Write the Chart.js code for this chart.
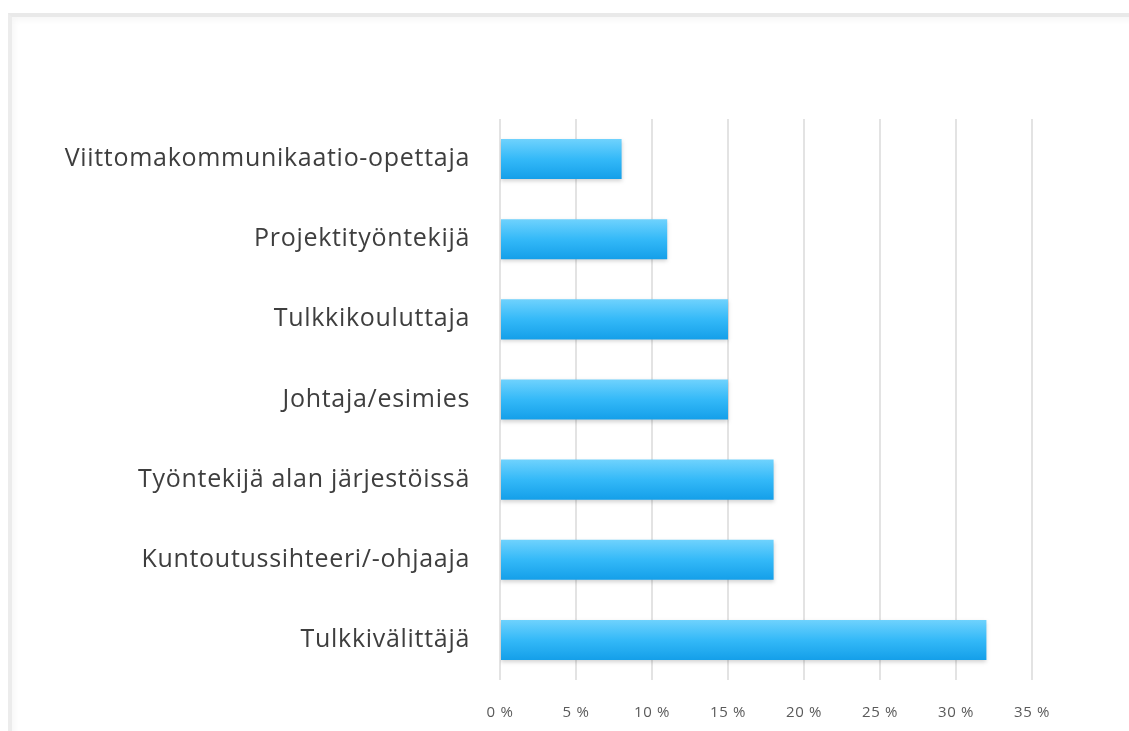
<!DOCTYPE html>
<html>
<head>
<meta charset="utf-8">
<script src="https://cdn.jsdelivr.net/npm/chart.js@4"></script>
<style>
html, body { margin: 0; padding: 0; background: #fff; overflow: hidden; }
#kehys {
  position: absolute; left: 8px; top: 13px; width: 1200px; height: 800px;
  border-top: 4px solid #e9e9e9; border-left: 4px solid #ececec;
  box-shadow: inset 2px 3px 6px rgba(0,0,0,0.04);
}
#alue { position: absolute; left: 0; top: 0; width: 1129px; height: 731px; }
</style>
</head>
<body>
<div id="kehys"></div>
<div id="alue"><canvas id="kaavio" width="1129" height="731"></canvas></div>
<script>
const tehtavat = [
  "Viittomakommunikaatio-opettaja",
  "Projektityöntekijä",
  "Tulkkikouluttaja",
  "Johtaja/esimies",
  "Työntekijä alan järjestöissä",
  "Kuntoutussihteeri/-ohjaaja",
  "Tulkkivälittäjä"
]
const osuudet = [8, 11, 15, 15, 18, 18, 32]
const asteikko = [0, 5, 10, 15, 20, 25, 30, 35]

// väljempi kirjainväli teksteille
const kirjainvali = {
  id: "kirjainvali",
  beforeLayout(chart){ chart.ctx.letterSpacing = "0.7px" },
  beforeDraw(chart){ chart.ctx.letterSpacing = "0.7px" }
}

// pylväiden varjo
const varjo = {
  id: "varjo",
  beforeDatasetDraw(chart){
    const c = chart.ctx
    c.save()
    c.shadowColor = "rgba(0,0,0,0.18)"
    c.shadowBlur = 4
    c.shadowOffsetY = 2
  },
  afterDatasetDraw(chart){
    chart.ctx.restore()
  }
}

// pystysuuntainen liukuväri jokaiselle pylväälle
function liukuvari(context){
  const chart = context.chart
  const y = chart.scales && chart.scales.y
  if(!chart.chartArea || !y || context.dataIndex === undefined) return "#2ab4f5"
  const keski = y.getPixelForValue(context.dataIndex)
  const h = (chart.chartArea.bottom - chart.chartArea.top) / tehtavat.length * 0.5
  if(!Number.isFinite(keski) || !Number.isFinite(h)) return "#2ab4f5"
  const g = chart.ctx.createLinearGradient(0, keski - h/2, 0, keski + h/2)
  g.addColorStop(0, "#6fd2fd")
  g.addColorStop(0.5, "#34b9f8")
  g.addColorStop(1, "#149fe9")
  return g
}

const ctx = document.getElementById("kaavio").getContext("2d")

new Chart(ctx, {
  type: "bar",
  data: {
    labels: tehtavat,
    datasets: [{
      data: osuudet,
      backgroundColor: liukuvari,
      borderWidth: 0,
      categoryPercentage: 1,
      barPercentage: 0.5
    }]
  },
  options: {
    indexAxis: "y",
    responsive: false,
    animation: false,
    layout: { padding: { top: 119, right: 97, bottom: 0, left: 0 } },
    plugins: { legend: { display: false }, tooltip: { enabled: false } },
    scales: {
      x: {
        min: 0,
        max: 35,
        afterBuildTicks(scale){
          scale.ticks = asteikko.map(v => ({ value: v }))
        },
        afterFit(scale){ scale.height = 51 },
        grid: { color: "#e3e3e3", lineWidth: 2, drawTicks: false },
        border: { display: false },
        ticks: {
          padding: 24,
          color: "#5a5a5a",
          font: { family: "Open Sans", size: 15 },
          callback: v => v + " %"
        }
      },
      y: {
        afterFit(scale){ scale.width = 500 },
        grid: { display: false, drawTicks: false },
        border: { display: false },
        ticks: {
          padding: 30,
          color: "#3e3e3e",
          font: { family: "Open Sans", size: 25 }
        }
      }
    }
  },
  plugins: [kirjainvali, varjo]
})
</script>
</body>
</html>
